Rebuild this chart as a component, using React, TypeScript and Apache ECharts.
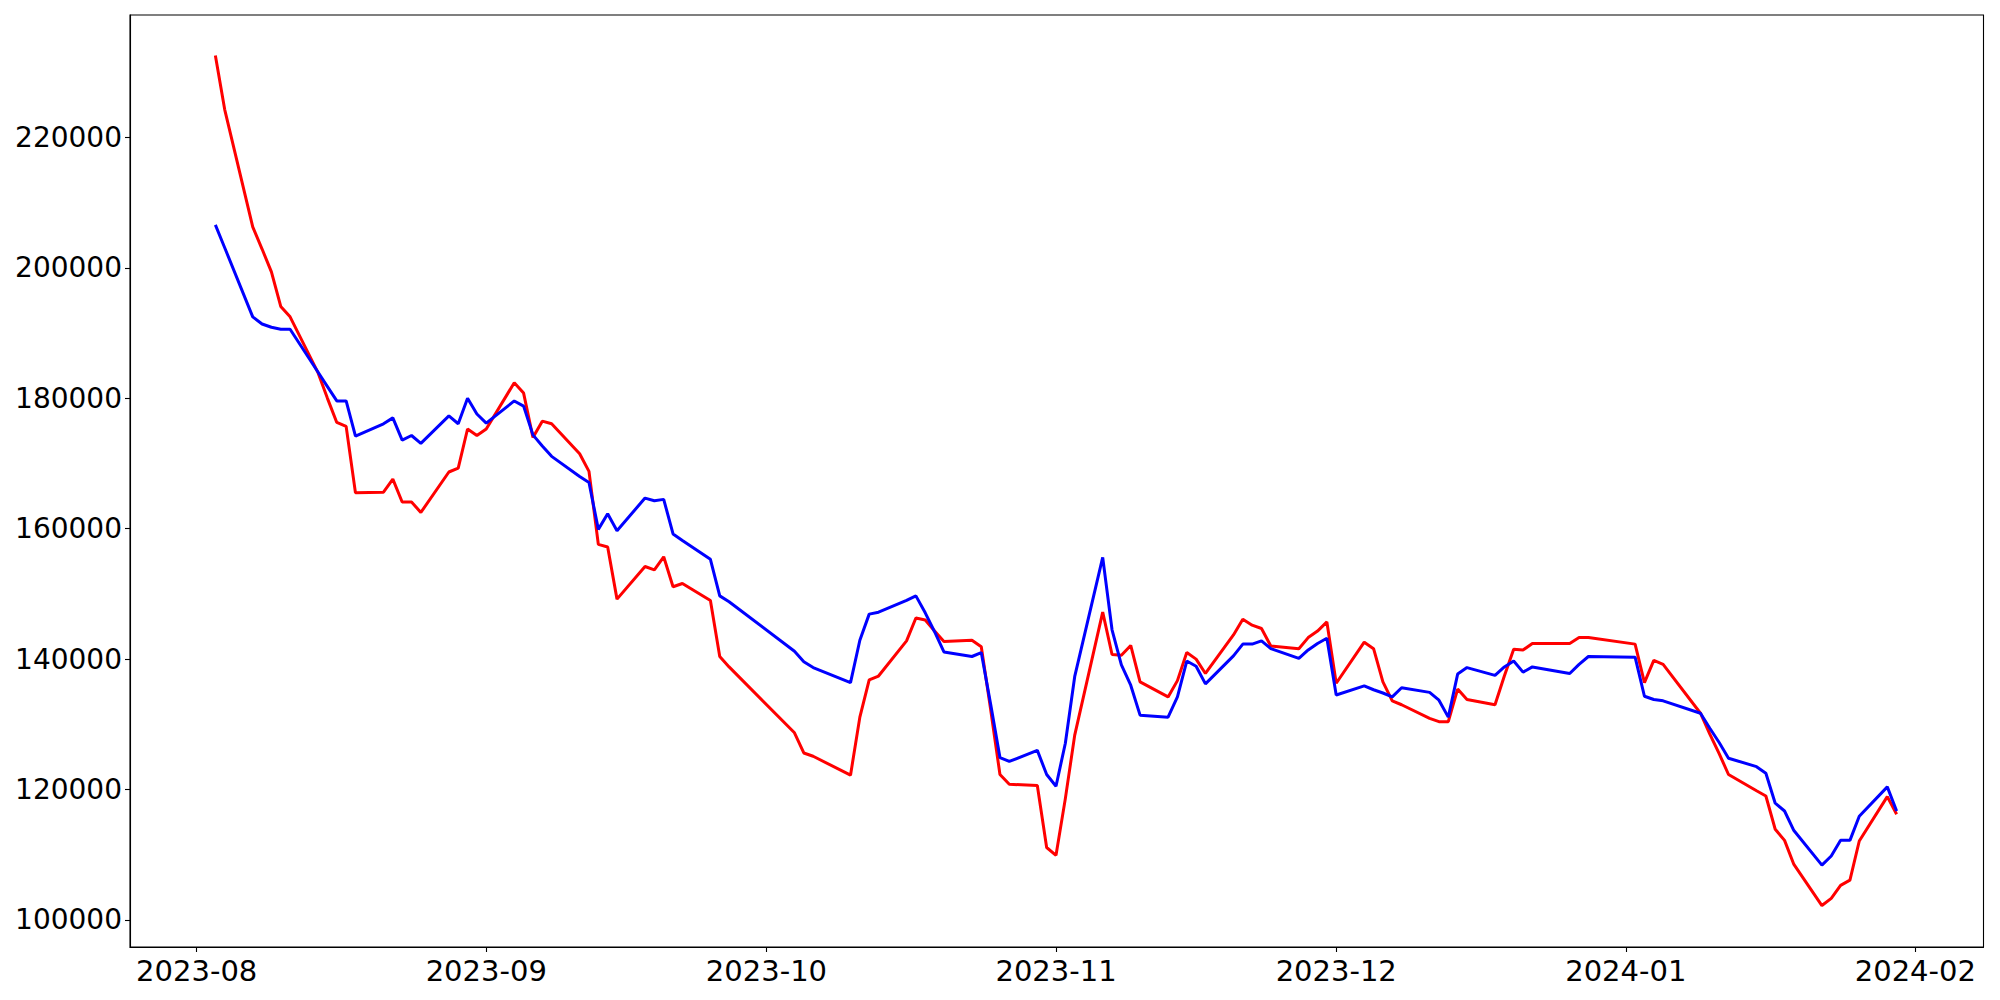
import React, { useEffect, useRef } from "react";
import * as echarts from "echarts";

const dates: string[] = [
  "2023-08-03", "2023-08-04", "2023-08-07", "2023-08-08", "2023-08-09", "2023-08-10", "2023-08-11",
  "2023-08-14", "2023-08-15", "2023-08-16", "2023-08-17", "2023-08-18",
  "2023-08-21", "2023-08-22", "2023-08-23", "2023-08-24", "2023-08-25",
  "2023-08-28", "2023-08-29", "2023-08-30", "2023-08-31", "2023-09-01",
  "2023-09-04", "2023-09-05", "2023-09-06", "2023-09-07", "2023-09-08",
  "2023-09-11", "2023-09-12", "2023-09-13", "2023-09-14", "2023-09-15",
  "2023-09-18", "2023-09-19", "2023-09-20", "2023-09-21", "2023-09-22",
  "2023-09-25", "2023-09-26", "2023-09-27",
  "2023-10-04", "2023-10-05", "2023-10-06",
  "2023-10-10", "2023-10-11", "2023-10-12", "2023-10-13",
  "2023-10-16", "2023-10-17", "2023-10-18", "2023-10-19", "2023-10-20",
  "2023-10-23", "2023-10-24", "2023-10-25", "2023-10-26", "2023-10-27",
  "2023-10-30", "2023-10-31", "2023-11-01", "2023-11-02", "2023-11-03",
  "2023-11-06", "2023-11-07", "2023-11-08", "2023-11-09", "2023-11-10",
  "2023-11-13", "2023-11-14", "2023-11-15", "2023-11-16", "2023-11-17",
  "2023-11-20", "2023-11-21", "2023-11-22", "2023-11-23", "2023-11-24",
  "2023-11-27", "2023-11-28", "2023-11-29", "2023-11-30", "2023-12-01",
  "2023-12-04", "2023-12-05", "2023-12-06", "2023-12-07", "2023-12-08",
  "2023-12-11", "2023-12-12", "2023-12-13", "2023-12-14", "2023-12-15",
  "2023-12-18", "2023-12-19", "2023-12-20", "2023-12-21", "2023-12-22",
  "2023-12-26", "2023-12-27", "2023-12-28",
  "2024-01-02", "2024-01-03", "2024-01-04", "2024-01-05",
  "2024-01-09", "2024-01-10", "2024-01-11", "2024-01-12",
  "2024-01-15", "2024-01-16", "2024-01-17", "2024-01-18", "2024-01-19",
  "2024-01-22", "2024-01-23", "2024-01-24", "2024-01-25", "2024-01-26",
  "2024-01-29", "2024-01-30",
];

const redValues: number[] = [
  232600, 224300, 206300, 202900, 199400, 194100, 192500,
  183900, 180000, 176300, 175700, 165500,
  165600, 167600, 164100, 164100, 162500,
  168700, 169300, 175300, 174300, 175300,
  182400, 180800, 174000, 176500, 176100,
  171500, 168800, 157600, 157200, 149200,
  154200, 153700, 155700, 151100, 151600,
  149000, 140400, 138800,
  128700, 125600, 125100,
  122200, 131100, 136800, 137400,
  142800, 146300, 146000, 144300, 142700,
  142900, 141900, 132300, 122300, 120800,
  120600, 111100, 109900, 118600, 128300,
  147200, 140700, 140600, 142100, 136500,
  134200, 136700, 141000, 140000, 137800,
  143700, 146100, 145200, 144700, 142000,
  141600, 143300, 144300, 145700, 136300,
  142600, 141600, 136500, 133600, 133000,
  130900, 130400, 130400, 135400, 133800,
  133000, 137400, 141500, 141400, 142400,
  142400, 143300, 143300,
  142300, 136400, 139800, 139200,
  131700, 128500, 125500, 122300,
  119800, 119000, 113900, 112200, 108500,
  102200, 103300, 105300, 106100, 112100,
  118900, 116200,
];

const blueValues: number[] = [
  206600, 203100, 192500, 191400, 190900, 190600, 190600,
  184000, 181800, 179600, 179600, 174200,
  176100, 177000, 173600, 174300, 173100,
  177300, 176100, 180000, 177600, 176200,
  179600, 178800, 174400, 172700, 171100,
  168000, 167100, 159900, 162300, 159700,
  164700, 164300, 164500, 159200, 158200,
  155300, 149700, 148800,
  141200, 139600, 138700,
  136400, 142900, 146900, 147200,
  149000, 149700, 147100, 144200, 141100,
  140400, 141000, 133100, 124900, 124300,
  126000, 122300, 120500, 127100, 137300,
  155600, 144500, 139100, 136000, 131400,
  131100, 134200, 139700, 138900, 136200,
  140500, 142300, 142300, 142800, 141600,
  140100, 141400, 142400, 143200, 134500,
  135900, 135300, 134800, 134200, 135600,
  134900, 133700, 131100, 137700, 138700,
  137500, 138800, 139700, 138000, 138800,
  137800, 139200, 140400,
  140300, 134300, 133800, 133600,
  131700, 129400, 127200, 124800,
  123500, 122500, 117900, 116700, 113700,
  108400, 109800, 112200, 112200, 115900,
  120400, 116700,
];

const yTickValues: number[] = [100000, 120000, 140000, 160000, 180000, 200000, 220000];
const xTickDates: string[] = [
  "2023-08-01", "2023-09-01", "2023-10-01", "2023-11-01", "2023-12-01", "2024-01-01", "2024-02-01",
];

function toTime(s: string): number {
  const [y, m, d] = s.split("-").map(Number);
  return new Date(y, m - 1, d).getTime();
}

function fmtMonth(v: number): string {
  const d = new Date(v);
  return `${d.getFullYear()}-${String(d.getMonth() + 1).padStart(2, "0")}`;
}

export default function App() {
  const ref = useRef<HTMLDivElement>(null);

  useEffect(() => {
    if (!ref.current) return;
    const chart = echarts.init(ref.current, undefined, { renderer: "svg" });
    const xTicks = xTickDates.map(toTime);
    const DAY = 86400000;
    const xMin = toTime("2023-08-01") - 7.14 * DAY;
    const xMax = toTime("2023-08-01") + 191.3 * DAY;
    const font = "DejaVu Sans";

    chart.setOption({
      animation: false,
      backgroundColor: "#ffffff",
      grid: {
        left: 130,
        right: 16.5,
        top: 15,
        bottom: 53,
        show: true,
        borderColor: "#000000",
        borderWidth: 1.1,
        backgroundColor: "transparent",
      },
      xAxis: {
        type: "value",
        min: xMin,
        max: xMax,
        scale: true,
        splitLine: { show: false },
        axisLine: { show: true, lineStyle: { color: "#000000", width: 1.1 } },
        axisTick: {
          show: true,
          inside: false,
          length: 5,
          lineStyle: { color: "#000000", width: 1.1 },
          customValues: xTicks,
        },
        axisLabel: {
          show: true,
          margin: 9,
          color: "#000000",
          fontFamily: font,
          fontSize: 29,
          customValues: xTicks,
          formatter: (v: number) => fmtMonth(v),
          hideOverlap: false,
        },
      },
      yAxis: {
        type: "value",
        min: 95840,
        max: 238800,
        splitLine: { show: false },
        axisLine: { show: true, lineStyle: { color: "#000000", width: 1.1 } },
        axisTick: {
          show: true,
          inside: false,
          length: 5,
          lineStyle: { color: "#000000", width: 1.1 },
          customValues: yTickValues,
        },
        axisLabel: {
          show: true,
          margin: 8,
          color: "#000000",
          fontFamily: font,
          fontSize: 28,
          customValues: yTickValues,
          formatter: (v: number) => String(v),
        },
      },
      series: [
        {
          name: "red",
          type: "line",
          showSymbol: false,
          symbol: "none",
          lineStyle: { color: "#ff0000", width: 3 },
          itemStyle: { color: "#ff0000" },
          data: dates.map((d, i) => [toTime(d), redValues[i]]),
          z: 2,
        },
        {
          name: "blue",
          type: "line",
          showSymbol: false,
          symbol: "none",
          lineStyle: { color: "#0000ff", width: 3 },
          itemStyle: { color: "#0000ff" },
          data: dates.map((d, i) => [toTime(d), blueValues[i]]),
          z: 3,
        },
      ],
    });

    return () => {
      chart.dispose();
    };
  }, []);

  return (
    <div
      ref={ref}
      style={{ position: "fixed", left: 0, top: 0, width: 2000, height: 1000, background: "#ffffff" }}
    />
  );
}
